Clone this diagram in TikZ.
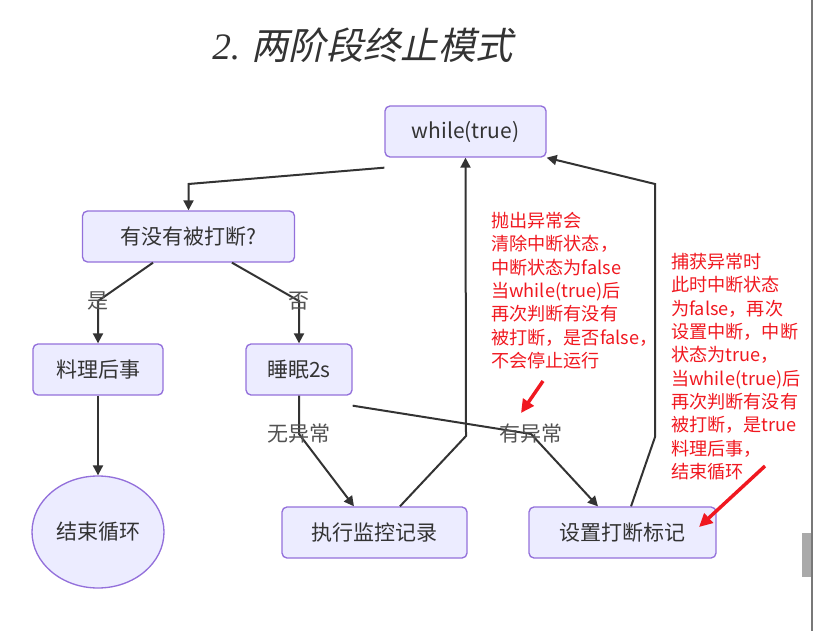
\documentclass[tikz,border=0pt]{standalone}
\usepackage{fontspec}
\setmainfont{Noto Sans CJK SC}
\newfontfamily\titlecjk[FakeSlant=0.22]{Noto Sans CJK SC}
\newfontfamily\titlelat{Liberation Serif}
\usetikzlibrary{arrows.meta,shapes.geometric}

\definecolor{nodefill}{RGB}{236,236,255}
\definecolor{nodeline}{RGB}{147,112,219}
\definecolor{edgegray}{RGB}{51,51,51}
\definecolor{notered}{RGB}{240,24,32}
\definecolor{barline}{RGB}{120,120,120}
\definecolor{barthumb}{RGB}{170,170,170}

\tikzset{
  flowbox/.style={draw=nodeline, fill=nodefill, line width=1pt, rounded corners=3.75pt,
    minimum height=38.25pt, inner sep=0pt, text=edgegray,
    font=\fontsize{15.75pt}{18pt}\selectfont},
  flowedge/.style={draw=edgegray, line width=1.5pt, -{Triangle[length=7.5pt,width=7.5pt]}},
  edgelabel/.style={inner sep=0pt, text=edgegray!85, font=\fontsize{15.75pt}{18pt}\selectfont},
  note/.style={anchor=north west, align=left, inner sep=0pt, text=notered,
    font=\fontsize{13.6pt}{17.5pt}\selectfont},
  notearrow/.style={draw=notered, line width=2.6pt, -{Triangle[length=10pt,width=9.5pt]}},
}

\begin{document}
\begin{tikzpicture}[x=0.75pt,y=0.75pt,yscale=-1,xscale=1]
\useasboundingbox (0,0) rectangle (813,631);

% Title
\node (title) at (362.5,45) {\color{edgegray}\fontsize{28pt}{32pt}\selectfont{\titlelat\itshape 2.} \titlecjk 两阶段终止模式};

% Nodes
\node[flowbox, minimum width=120.75pt] (loop) at (465.5,131.5) {while(true)};
\node[flowbox, minimum width=159pt] (ask) at (188.5,236.5) {有没有被打断?};
\node[flowbox, minimum width=97.5pt] (after) at (98,369.5) {料理后事};
\node[flowbox, minimum width=79.5pt] (sleep) at (299,369.5) {睡眠2s};
\node[flowbox, ellipse, minimum width=99pt, minimum height=84pt] (stop) at (98,532) {结束循环};
\node[flowbox, minimum width=138.75pt] (record) at (374.5,532.5) {执行监控记录};
\node[flowbox, minimum width=140.25pt] (mark) at (622.5,532.5) {设置打断标记};

% Bends
\coordinate (b1) at (188.5,184);
\coordinate (b2) at (98,301);
\coordinate (b3) at (299,301);
\coordinate (b4) at (299,434);
\coordinate (b5) at (531,434);
\coordinate (b6) at (466,436);
\coordinate (b7) at (655,437);
\coordinate (b8) at (655,184);

% Connectors
\draw[flowedge] ([yshift=7.5pt]loop.south west) -- (b1) -- (ask.north);
\draw[flowedge] ([xshift=-26.6pt]ask.south) -- (b2) -- (after.north);
\draw[flowedge] ([xshift=32.6pt]ask.south) -- (b3) -- (sleep.north);
\draw[flowedge] (after) -- (stop);
\draw[flowedge] (sleep.south) -- (b4) -- ([xshift=-15.4pt]record.north);
\draw[flowedge] ([yshift=7.5pt]sleep.south east) -- (b5) -- ([xshift=-18.4pt]mark.north);
\draw[flowedge] ([xshift=19.1pt]record.north) -- (b6) -- (loop.south);
\draw[flowedge] ([xshift=6.4pt]mark.north) -- (b7) -- (b8) -- (loop.south east);

% Edge labels
\node[edgelabel] (yes) at (b2) {是};
\node[edgelabel] (no) at (b3) {否};
\node[edgelabel] (noexc) at (b4) {无异常};
\node[edgelabel] (exc) at (b5) {有异常};

% Notes
\node[note] (note1) at (491,212) {抛出异常会\\清除中断状态，\\中断状态为false\\当while(true)后\\再次判断有没有\\被打断，是否false，\\不会停止运行};
\node[note] (note2) at (671,253) {捕获异常时\\此时中断状态\\为false，再次\\设置中断，中断\\状态为true，\\当while(true)后\\再次判断有没有\\被打断，是true\\料理后事，\\结束循环};
\coordinate (t1) at (543,381);
\coordinate (t2) at (765,466);
\draw[notearrow] (t1) -- (521,413);
\draw[notearrow] (t2) -- (699,527);

% Window edge
\fill[barline] (810.5,0) rectangle (813,631);
\fill[barthumb] (802,533) rectangle (810.5,577);

\end{tikzpicture}
\end{document}
